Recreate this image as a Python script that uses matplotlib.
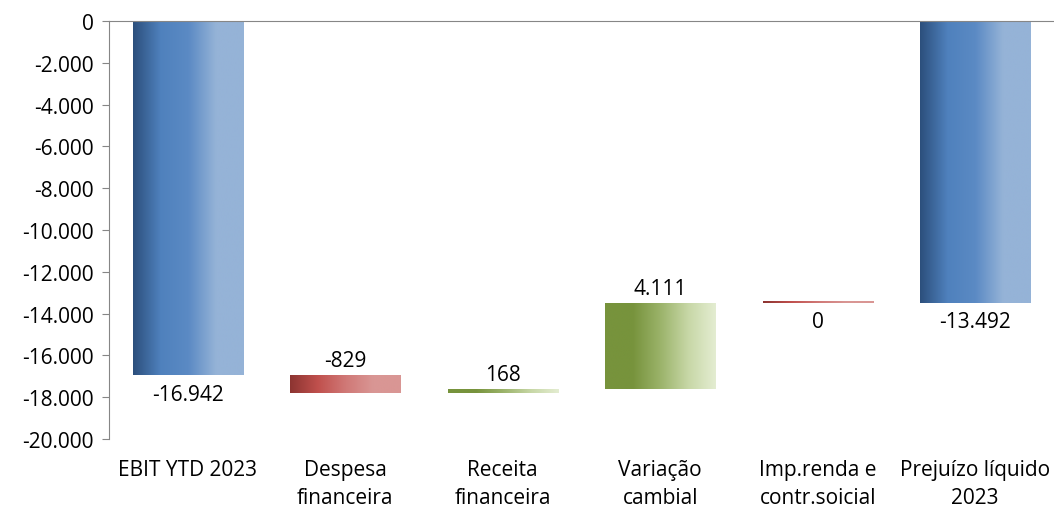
import numpy as np
import matplotlib
matplotlib.use("Agg")
import matplotlib.pyplot as plt
from matplotlib.colors import LinearSegmentedColormap, to_rgb
from matplotlib.ticker import FuncFormatter

plt.rcParams['font.family'] = ['Open Sans', 'DejaVu Sans']

# dados
categorias = ["EBIT YTD 2023", "Despesa\nfinanceira", "Receita\nfinanceira",
              "Variação\ncambial", "Imp.renda e\ncontr.soicial", "Prejuízo líquido\n2023"]
valores = [-16942, -829, 168, 4111, 0, -13492]
tipos = ["total", "neg", "pos", "pos", "neg", "total"]
rotulos = ["-16.942", "-829", "168", "4.111", "0", "-13.492"]

# gradientes (esquerda -> direita)
gradientes = {
    "total": ["#2c4f7c", "#4f81bd", "#5b8ac4", "#95b3d7", "#95b3d7"],
    "neg": ["#8c3431", "#c0504d", "#d07876", "#d99694", "#d99694"],
    "pos": ["#77933c", "#77933c", "#9bb36a", "#c7d7a6", "#e4edd2"],
}

fs = 15

fig = plt.figure(figsize=(10.54, 5.10), dpi=100)
ax = fig.add_axes([0.1034, 0.137, 0.8966, 0.82])

largura = 0.7
acumulado = 0
for i, (v, t) in enumerate(zip(valores, tipos)):
    if t == "total":
        base, topo = 0, v
        acumulado = v
    else:
        base, topo = acumulado, acumulado + v
        acumulado = topo
    lo, hi = min(base, topo), max(base, topo)
    if hi - lo < 60:
        hi = lo + 60
    cmap = LinearSegmentedColormap.from_list("g" + str(i), [to_rgb(c) for c in gradientes[t]])
    grad = np.linspace(0, 1, 256).reshape(1, -1)
    ax.imshow(grad, cmap=cmap, aspect="auto", extent=(i - largura / 2, i + largura / 2, lo, hi),
              zorder=2, interpolation="bilinear")
    # rótulo
    if t == "total" or v == 0:
        ax.text(i, lo - 400, rotulos[i], ha="center", va="top", fontsize=fs)
    else:
        ax.text(i, hi + 200, rotulos[i], ha="center", va="bottom", fontsize=fs)

ax.set_xlim(-0.5, len(categorias) - 0.5)
ax.set_ylim(-20000, 0)
ax.set_yticks(np.arange(-20000, 1, 2000))
ax.yaxis.set_major_formatter(FuncFormatter(lambda x, p: f"{int(x):,}".replace(",", ".")))
ax.tick_params(axis="y", labelsize=fs, length=5, color="#868686", pad=6)
ax.set_xticks([])

for s in ["right", "bottom"]:
    ax.spines[s].set_visible(False)
ax.spines["left"].set_color("#868686")
ax.spines["top"].set_color("#868686")

for i, c in enumerate(categorias):
    ax.text(i, -0.048, c, transform=ax.get_xaxis_transform(), ha="center", va="top",
            fontsize=fs, linespacing=1.45)

fig.savefig("out.png", dpi=100)
